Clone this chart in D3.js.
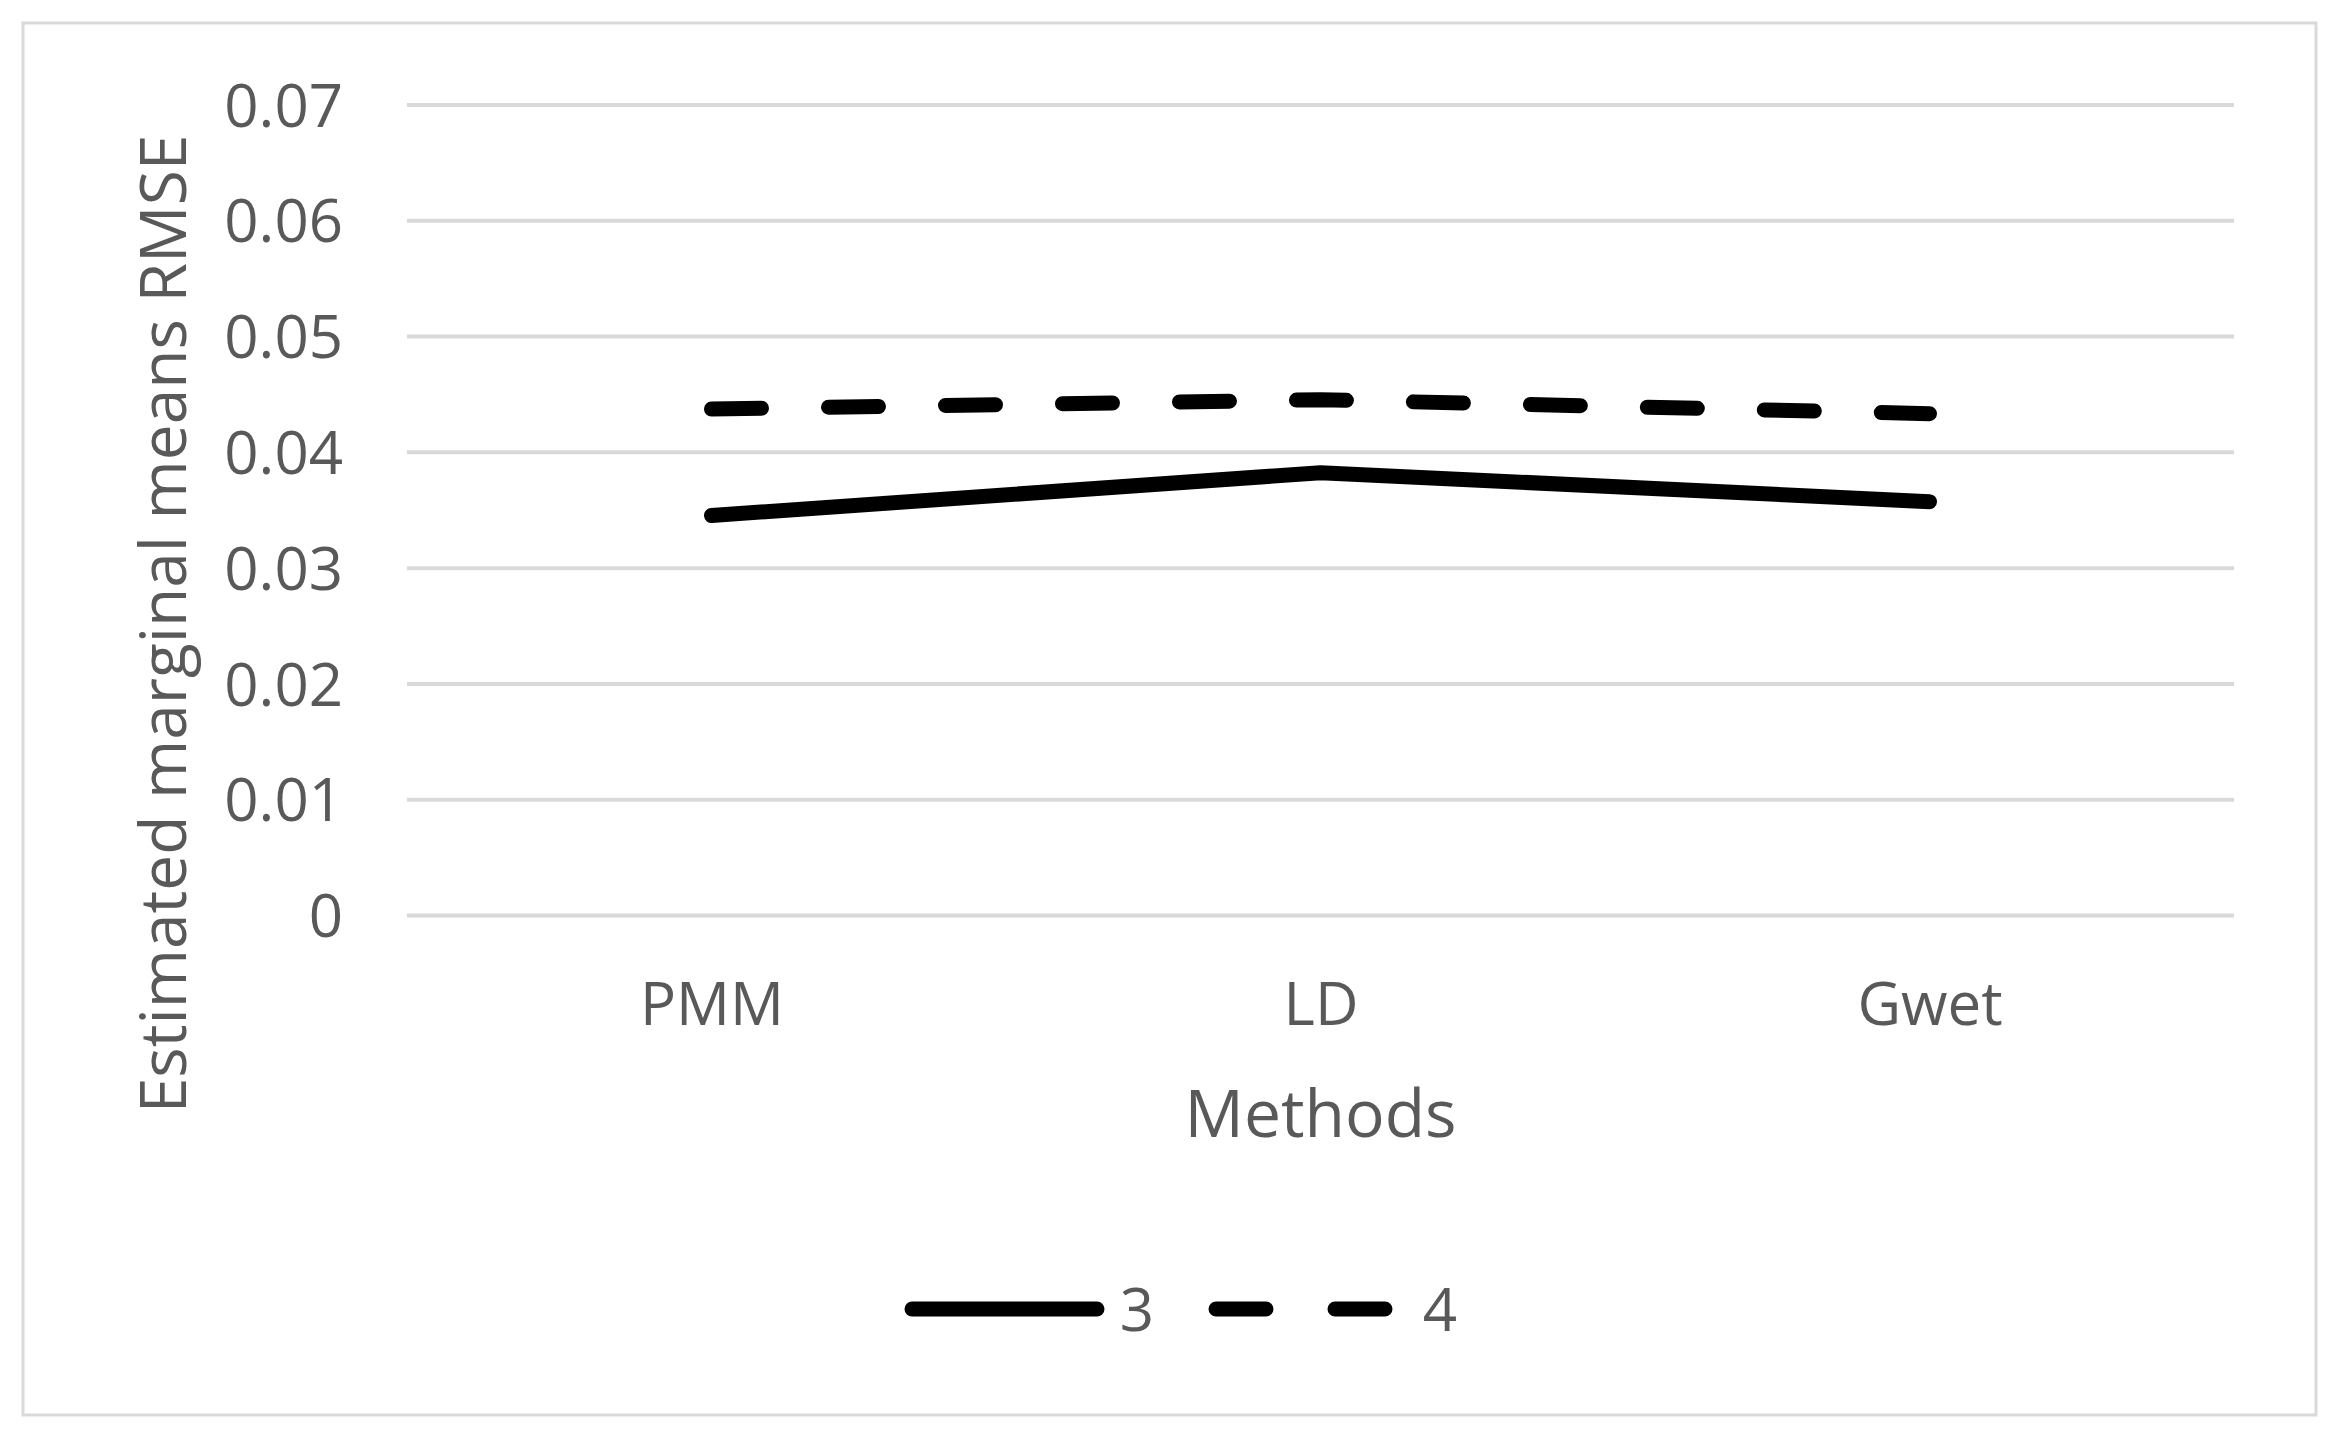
<!DOCTYPE html>
<html>
<head>
<meta charset="utf-8">
<script src="https://cdn.jsdelivr.net/npm/d3@7"></script>
<style>
  body { margin: 0; background: #fff; }
  text { font-family: "Open Sans", sans-serif; fill: #595959; }
</style>
</head>
<body>
<div id="chart"></div>
<script>
// data
const methods = ["PMM", "LD", "Gwet"];
const series3 = [0.0345, 0.0382, 0.0357];
const series4 = [0.0437, 0.0445, 0.0433];
const yTicks = [0, 0.01, 0.02, 0.03, 0.04, 0.05, 0.06, 0.07];
const legendNames = ["3", "4"];

const w = 2340, h = 1443;
const plotLeft = 407, plotRight = 2234, plotTop = 104.5, plotBottom = 915;

const svg = d3.select("#chart")
    .append("svg")
    .attr("width", w)
    .attr("height", h);

svg.append("rect")
    .attr("width", w)
    .attr("height", h)
    .attr("fill", "#fff");

// outer frame
svg.append("rect")
    .attr("x", 23)
    .attr("y", 23)
    .attr("width", 2293)
    .attr("height", 1392)
    .attr("fill", "none")
    .attr("stroke", "#d9d9d9")
    .attr("stroke-width", 3);

const x = d3.scalePoint()
    .domain(methods)
    .range([plotLeft, plotRight])
    .padding(0.5);

const y = d3.scaleLinear()
    .domain([0, 0.07])
    .range([plotBottom, plotTop]);

// y axis with gridlines
svg.append("g")
    .attr("transform", `translate(${plotLeft},0)`)
    .call(d3.axisLeft(y)
        .tickValues(yTicks)
        .tickSize(-(plotRight - plotLeft))
        .tickPadding(64)
        .tickFormat(d => d === 0 ? "0" : d3.format(".2f")(d)))
    .call(g => g.select(".domain").remove())
    .call(g => g.selectAll("line")
        .attr("stroke", "#d9d9d9")
        .attr("stroke-width", 4))
    .call(g => g.selectAll("text")
        .attr("font-size", 60)
        .attr("dy", "0.36em")
        .attr("fill", "#595959"));

// x axis labels
svg.append("g")
    .attr("transform", `translate(0,${plotBottom})`)
    .call(d3.axisBottom(x).tickSize(0))
    .call(g => g.select(".domain").remove())
    .call(g => g.selectAll("text")
        .attr("font-size", 60)
        .attr("y", 110)
        .attr("dy", null)
        .attr("fill", "#595959"));

// axis titles
svg.append("text")
    .attr("x", (plotLeft + plotRight) / 2)
    .attr("y", 1137)
    .attr("text-anchor", "middle")
    .attr("font-size", 66)
    .text("Methods");

svg.append("text")
    .attr("transform", `translate(186,624) rotate(-90)`)
    .attr("text-anchor", "middle")
    .attr("font-size", 64)
    .text("Estimated marginal means RMSE");

const line = d3.line()
    .x((d, i) => x(methods[i]))
    .y(d => y(d));

svg.append("path")
    .datum(series3)
    .attr("d", line)
    .attr("fill", "none")
    .attr("stroke", "#000")
    .attr("stroke-width", 15)
    .attr("stroke-linecap", "round")
    .attr("stroke-linejoin", "round");

svg.append("path")
    .datum(series4)
    .attr("d", line)
    .attr("fill", "none")
    .attr("stroke", "#000")
    .attr("stroke-width", 15)
    .attr("stroke-linecap", "round")
    .attr("stroke-linejoin", "round")
    .attr("stroke-dasharray", "50,67");

// legend
const legendY = 1309;
const legend = svg.append("g");

legend.append("line")
    .attr("x1", 912).attr("x2", 1097)
    .attr("y1", legendY).attr("y2", legendY)
    .attr("stroke", "#000")
    .attr("stroke-width", 15)
    .attr("stroke-linecap", "round");

legend.append("line")
    .attr("x1", 1216).attr("x2", 1385)
    .attr("y1", legendY).attr("y2", legendY)
    .attr("stroke", "#000")
    .attr("stroke-width", 15)
    .attr("stroke-linecap", "round")
    .attr("stroke-dasharray", "50,69");

legend.selectAll("text.lg")
    .data(legendNames)
    .join("text")
    .attr("class", "lg")
    .attr("x", (d, i) => i === 0 ? 1137 : 1440)
    .attr("y", 1331)
    .attr("text-anchor", "middle")
    .attr("font-size", 60)
    .text(d => d);
</script>
</body>
</html>
